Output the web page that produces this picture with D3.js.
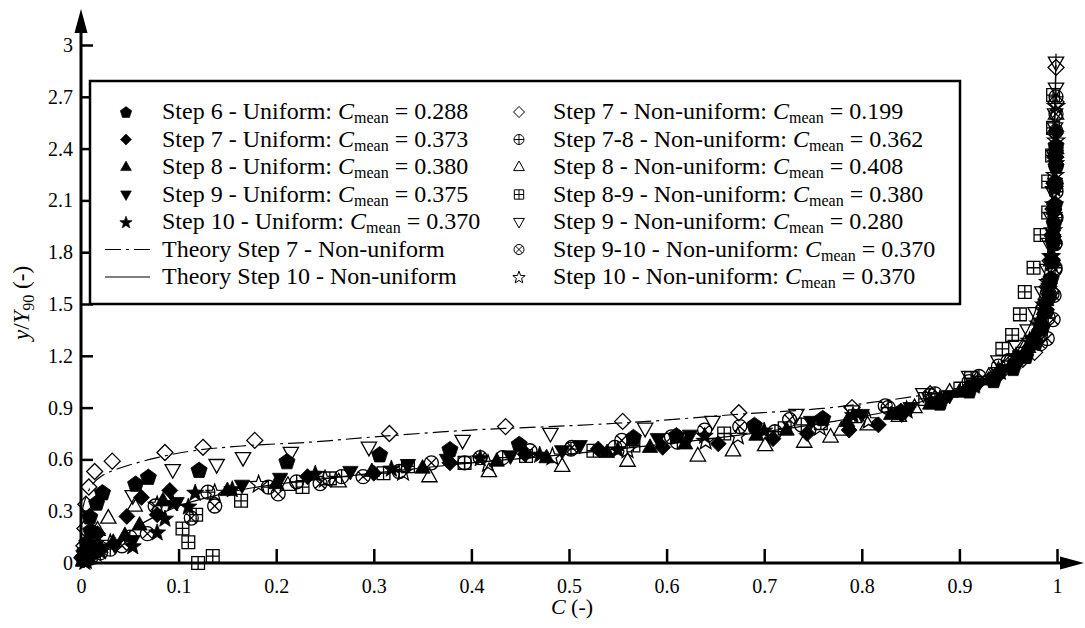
<!DOCTYPE html>
<html>
<head>
<meta charset="utf-8">
<title>Concentration profiles</title>
<script src="https://d3js.org/d3.v7.min.js"></script>
<style>
  html, body { margin: 0; background: #fff; }
  svg { display: block; }
</style>
</head>
<body>
<svg id="svg"></svg>
<script>
// ---- data: [C, y/Y90] pairs ----
const step6U = [[0.002,0.03],[0.004,0.07],[0.006,0.12],[0.010,0.19],[0.009,0.27],[0.016,0.35],[0.022,0.41],[0.056,0.46],[0.069,0.50],[0.121,0.54],[0.211,0.59],[0.306,0.63],[0.378,0.66],[0.449,0.69],[0.566,0.73],[0.610,0.74],[0.690,0.80],[0.760,0.84],[0.840,0.88],[0.880,0.93],[0.910,1.00],[0.935,1.06],[0.955,1.13],[0.968,1.20],[0.978,1.28],[0.985,1.37],[0.989,1.46],[0.992,1.55],[0.994,1.65],[0.995,1.75],[0.996,1.86],[0.997,1.97],[0.998,2.08],[0.998,2.19],[0.999,2.30],[0.999,2.42]];
const step7U = [[0.003,0.02],[0.008,0.06],[0.012,0.10],[0.017,0.17],[0.047,0.27],[0.062,0.38],[0.078,0.28],[0.091,0.42],[0.232,0.50],[0.300,0.52],[0.378,0.58],[0.455,0.63],[0.530,0.66],[0.596,0.67],[0.653,0.69],[0.709,0.72],[0.744,0.75],[0.787,0.77],[0.817,0.80],[0.841,0.86],[0.882,0.94],[0.910,1.02],[0.940,1.10],[0.958,1.17],[0.972,1.25],[0.982,1.35],[0.988,1.47],[0.992,1.60],[0.995,1.75],[0.996,1.90],[0.997,2.05],[0.998,2.20],[0.999,2.35],[0.999,2.50]];
const step8U = [[0.002,0.01],[0.006,0.03],[0.012,0.06],[0.020,0.09],[0.033,0.12],[0.045,0.16],[0.060,0.22],[0.084,0.36],[0.150,0.42],[0.200,0.46],[0.298,0.53],[0.350,0.55],[0.426,0.59],[0.477,0.61],[0.539,0.64],[0.583,0.67],[0.619,0.69],[0.692,0.74],[0.723,0.77],[0.785,0.82],[0.830,0.86],[0.870,0.92],[0.900,0.99],[0.930,1.06],[0.952,1.14],[0.967,1.22],[0.977,1.31],[0.984,1.41],[0.989,1.52],[0.992,1.64],[0.995,1.78],[0.996,1.92],[0.997,2.07],[0.998,2.22],[0.999,2.38]];
const step9U = [[0.003,0.02],[0.010,0.05],[0.020,0.08],[0.035,0.10],[0.053,0.13],[0.098,0.35],[0.165,0.45],[0.204,0.49],[0.276,0.53],[0.335,0.57],[0.375,0.60],[0.440,0.62],[0.493,0.65],[0.511,0.68],[0.591,0.72],[0.624,0.74],[0.690,0.77],[0.748,0.82],[0.800,0.86],[0.850,0.90],[0.890,0.97],[0.920,1.04],[0.945,1.12],[0.962,1.20],[0.974,1.29],[0.983,1.39],[0.988,1.50],[0.992,1.62],[0.994,1.76],[0.996,1.90],[0.997,2.05],[0.998,2.20],[0.999,2.36]];
const step10U = [[0.004,0.01],[0.010,0.04],[0.020,0.07],[0.053,0.10],[0.078,0.18],[0.086,0.26],[0.094,0.35],[0.110,0.33],[0.117,0.41],[0.155,0.43],[0.240,0.52],[0.318,0.55],[0.409,0.61],[0.470,0.63],[0.550,0.66],[0.639,0.74],[0.700,0.77],[0.791,0.86],[0.840,0.88],[0.880,0.95],[0.915,1.03],[0.942,1.11],[0.960,1.19],[0.973,1.28],[0.982,1.38],[0.988,1.49],[0.992,1.61],[0.995,1.74],[0.996,1.88],[0.997,2.02],[0.998,2.17],[0.999,2.32]];
const step7N = [[0.001,0.03],[0.003,0.10],[0.004,0.20],[0.005,0.34],[0.008,0.44],[0.014,0.53],[0.032,0.59],[0.086,0.64],[0.125,0.67],[0.178,0.71],[0.316,0.75],[0.435,0.79],[0.555,0.82],[0.674,0.87],[0.790,0.90],[0.870,0.98],[0.920,1.05],[0.940,1.09],[0.965,1.18],[0.977,1.22],[0.980,1.32],[0.986,1.48],[0.990,1.60],[0.993,1.75],[0.995,1.90],[0.996,2.05],[0.997,2.20],[0.998,2.35],[0.998,2.49],[0.999,2.67],[0.999,2.87]];
const step78N = [[0.010,0.03],[0.030,0.08],[0.050,0.15],[0.130,0.41],[0.192,0.44],[0.221,0.47],[0.267,0.50],[0.326,0.53],[0.393,0.58],[0.432,0.61],[0.502,0.66],[0.547,0.67],[0.611,0.70],[0.711,0.76],[0.738,0.80],[0.827,0.90],[0.875,0.98],[0.920,1.08],[0.950,1.17],[0.983,1.32],[0.991,1.42],[0.995,1.56],[0.998,1.71],[0.998,1.85],[0.998,2.00],[0.999,2.15],[0.999,2.30],[0.999,2.50],[0.999,2.70]];
const step8N = [[0.003,0.02],[0.008,0.06],[0.012,0.13],[0.017,0.19],[0.028,0.26],[0.055,0.33],[0.212,0.45],[0.264,0.47],[0.357,0.50],[0.418,0.53],[0.493,0.56],[0.560,0.59],[0.632,0.62],[0.668,0.65],[0.701,0.68],[0.741,0.70],[0.768,0.73],[0.779,0.77],[0.806,0.80],[0.838,0.85],[0.854,0.90],[0.890,0.99],[0.930,1.08],[0.955,1.16],[0.970,1.25],[0.980,1.35],[0.987,1.47],[0.991,1.60],[0.994,1.75],[0.996,1.90],[0.997,2.05],[0.998,2.20],[0.999,2.40],[0.999,2.60]];
const step89N = [[0.010,0.06],[0.120,0.00],[0.135,0.04],[0.110,0.12],[0.104,0.20],[0.118,0.28],[0.164,0.36],[0.227,0.44],[0.255,0.49],[0.310,0.52],[0.335,0.56],[0.393,0.58],[0.456,0.62],[0.525,0.65],[0.566,0.68],[0.659,0.75],[0.721,0.78],[0.758,0.81],[0.793,0.85],[0.865,0.95],[0.901,1.01],[0.912,1.07],[0.944,1.24],[0.954,1.32],[0.962,1.44],[0.967,1.57],[0.976,1.71],[0.983,1.90],[0.991,2.03],[0.991,2.21],[0.995,2.36],[0.996,2.52],[0.996,2.71]];
const step9N = [[0.003,0.04],[0.008,0.07],[0.015,0.10],[0.053,0.39],[0.094,0.54],[0.139,0.57],[0.166,0.61],[0.215,0.64],[0.295,0.67],[0.391,0.71],[0.481,0.75],[0.578,0.78],[0.647,0.82],[0.733,0.86],[0.790,0.88],[0.863,0.98],[0.910,1.08],[0.940,1.17],[0.958,1.26],[0.970,1.35],[0.978,1.45],[0.985,1.57],[0.990,1.70],[0.992,1.85],[0.994,2.00],[0.996,2.15],[0.997,2.36],[0.998,2.52],[0.998,2.60],[0.999,2.75],[0.999,2.90]];
const step910N = [[0.005,0.03],[0.020,0.06],[0.042,0.10],[0.068,0.17],[0.076,0.33],[0.113,0.26],[0.137,0.33],[0.202,0.40],[0.245,0.46],[0.289,0.50],[0.359,0.58],[0.409,0.61],[0.460,0.65],[0.503,0.67],[0.554,0.71],[0.605,0.73],[0.639,0.77],[0.675,0.79],[0.726,0.83],[0.824,0.91],[0.870,0.97],[0.910,1.05],[0.940,1.14],[0.962,1.21],[0.983,1.27],[0.990,1.30],[0.996,1.41],[0.997,1.55],[0.998,1.70],[0.998,1.85],[0.999,2.00],[0.999,2.20],[0.999,2.40],[0.999,2.60]];
const step10N = [[0.005,0.02],[0.015,0.06],[0.030,0.12],[0.078,0.34],[0.137,0.41],[0.182,0.46],[0.250,0.49],[0.330,0.53],[0.417,0.58],[0.483,0.62],[0.560,0.66],[0.640,0.71],[0.673,0.74],[0.757,0.79],[0.807,0.83],[0.846,0.89],[0.880,0.95],[0.915,1.04],[0.940,1.12],[0.958,1.20],[0.972,1.29],[0.981,1.39],[0.987,1.50],[0.991,1.63],[0.994,1.78],[0.996,1.93],[0.997,2.08],[0.998,2.25],[0.999,2.45],[0.999,2.65]];

// theory curves
const theory7N = [[0.001,0.30],[0.005,0.38],[0.011,0.45],[0.020,0.50],[0.040,0.55],[0.078,0.61],[0.115,0.65],[0.170,0.68],[0.235,0.70],[0.300,0.73],[0.400,0.77],[0.500,0.795],[0.580,0.82],[0.670,0.86],[0.760,0.895],[0.810,0.93],[0.860,0.97],[0.910,1.02],[0.940,1.10],[0.960,1.20],[0.975,1.35],[0.985,1.55],[0.992,1.85],[0.996,2.20],[0.998,2.60],[0.999,2.90]];
const theory10N = [[0.010,0.02],[0.020,0.06],[0.030,0.10],[0.045,0.16],[0.060,0.22],[0.080,0.28],[0.100,0.33],[0.130,0.38],[0.170,0.43],[0.220,0.47],[0.300,0.52],[0.400,0.58],[0.500,0.63],[0.600,0.69],[0.700,0.76],[0.760,0.81],[0.820,0.87],[0.870,0.95],[0.900,1.01],[0.930,1.10],[0.955,1.22],[0.970,1.35],[0.980,1.50],[0.988,1.70],[0.993,1.95],[0.996,2.30],[0.998,2.70],[0.999,2.95]];

const seriesLabels = ["Step 6 - Uniform: ", "Step 7 - Uniform: ", "Step 8 - Uniform: ", "Step 9 - Uniform: ", "Step 10 - Uniform: ",
  "Step 7 - Non-uniform: ", "Step 7-8 - Non-uniform: ", "Step 8 - Non-uniform: ", "Step 8-9 - Non-uniform: ", "Step 9 - Non-uniform: ", "Step 9-10 - Non-uniform: ", "Step 10 - Non-uniform: "];
const cMeans = ["0.288", "0.373", "0.380", "0.375", "0.370", "0.199", "0.362", "0.408", "0.380", "0.280", "0.370", "0.370"];
const seriesData = [step6U, step7U, step8U, step9U, step10U, step7N, step78N, step8N, step89N, step9N, step910N, step10N];
const markerKinds = ["pentagon", "diamond", "triUp", "triDown", "star", "diamond", "oplus", "triUp", "boxplus", "triDown", "otimes", "star"];
const markerFilled = [true, true, true, true, true, false, false, false, false, false, false, false];
const theoryLabels = ["Theory Step 7 - Non-uniform", "Theory Step 10 - Non-uniform"];
const xTicks = [0, 0.1, 0.2, 0.3, 0.4, 0.5, 0.6, 0.7, 0.8, 0.9, 1];
const yTicks = [0, 0.3, 0.6, 0.9, 1.2, 1.5, 1.8, 2.1, 2.4, 2.7, 3];

// ---- layout ----
const W = 1085, H = 628;
const FONT = "Liberation Serif";
const svg = d3.select("#svg").attr("width", W).attr("height", H).style("font-family", FONT);

const x = d3.scaleLinear().domain([0, 1]).range([81, 1057]);
const y = d3.scaleLinear().domain([0, 3]).range([563, 45]);

// symbol types (size is interpreted as r^2)
function poly(ctx, pts) {
  ctx.moveTo(pts[0][0], pts[0][1]);
  for (let i = 1; i < pts.length; i++) ctx.lineTo(pts[i][0], pts[i][1]);
  ctx.closePath();
}
const shapes = {
  pentagon: { draw(ctx, s) { const r = Math.sqrt(s);
    poly(ctx, d3.range(5).map(k => { const a = -Math.PI / 2 + k * 2 * Math.PI / 5; return [r * Math.cos(a), r * Math.sin(a) + r * 0.1]; })); } },
  diamond: { draw(ctx, s) { const r = Math.sqrt(s); poly(ctx, [[0, -r], [r, 0], [0, r], [-r, 0]]); } },
  triUp: { draw(ctx, s) { const r = Math.sqrt(s); poly(ctx, [[0, -r], [r * 0.9, r * 0.6], [-r * 0.9, r * 0.6]]); } },
  triDown: { draw(ctx, s) { const r = Math.sqrt(s); poly(ctx, [[0, r], [r * 0.9, -r * 0.6], [-r * 0.9, -r * 0.6]]); } },
  star: { draw(ctx, s) { const r = Math.sqrt(s);
    poly(ctx, d3.range(10).map(k => { const a = -Math.PI / 2 + k * Math.PI / 5, rr = k % 2 ? r * 0.42 : r; return [rr * Math.cos(a), rr * Math.sin(a) + r * 0.1]; })); } },
  oplus: { draw(ctx, s) { const r = Math.sqrt(s);
    ctx.moveTo(r, 0); ctx.arc(0, 0, r, 0, 2 * Math.PI);
    ctx.moveTo(-r, 0); ctx.lineTo(r, 0); ctx.moveTo(0, -r); ctx.lineTo(0, r); } },
  otimes: { draw(ctx, s) { const r = Math.sqrt(s), q = r * Math.SQRT1_2;
    ctx.moveTo(r, 0); ctx.arc(0, 0, r, 0, 2 * Math.PI);
    ctx.moveTo(-q, -q); ctx.lineTo(q, q); ctx.moveTo(-q, q); ctx.lineTo(q, -q); } },
  boxplus: { draw(ctx, s) { const r = Math.sqrt(s) * 0.85;
    ctx.rect(-r, -r, 2 * r, 2 * r);
    ctx.moveTo(-r, 0); ctx.lineTo(r, 0); ctx.moveTo(0, -r); ctx.lineTo(0, r); } }
};
const plotR = { pentagon: 8.5, diamond: 8, triUp: 8.5, triDown: 8.5, star: 9, oplus: 7, otimes: 7, boxplus: 7.5 };
const legR = { pentagon: 6, diamond: 5.5, triUp: 6, triDown: 6, star: 6.5, oplus: 5, otimes: 5, boxplus: 5.5 };

function sym(kind, r) { return d3.symbol().type(shapes[kind]).size(r * r)(); }

// ---- theory lines ----
const line = d3.line().curve(d3.curveCatmullRom.alpha(0.5)).x(d => x(d[0])).y(d => y(d[1]));
svg.append("path").attr("d", line(theory7N)).attr("fill", "none").attr("stroke", "#000")
  .attr("stroke-width", 1.2).attr("stroke-dasharray", "16,5,3,5");
svg.append("path").attr("d", line(theory10N)).attr("fill", "none").attr("stroke", "#000").attr("stroke-width", 1.2);

// ---- markers ----
seriesData.forEach((data, i) => {
  const kind = markerKinds[i], filled = markerFilled[i];
  svg.append("g").selectAll("path").data(data).join("path")
    .attr("transform", d => `translate(${x(d[0])},${y(d[1])})`)
    .attr("d", sym(kind, plotR[kind]))
    .attr("fill", filled ? "#000" : "none")
    .attr("stroke", "#000")
    .attr("stroke-width", filled ? 0.8 : 1.3);
});

// ---- axes ----
const yAxis = svg.append("g").attr("transform", `translate(${x(0)},0)`)
  .call(d3.axisLeft(y).tickValues(yTicks).tickSize(-12).tickPadding(8).tickFormat(d3.format("~g")));
const xAxis = svg.append("g").attr("transform", `translate(0,${y(0)})`)
  .call(d3.axisBottom(x).tickValues(xTicks).tickSize(-14).tickPadding(16).tickFormat(d3.format("~g")));
[yAxis, xAxis].forEach(a => {
  a.attr("font-family", FONT);
  a.select(".domain").remove();
  a.selectAll(".tick line").attr("stroke", "#000").attr("stroke-width", 2.5);
  a.selectAll(".tick text").attr("fill", "#000").style("font-family", FONT).style("font-size", "20px");
});
// axis lines with arrowheads
svg.append("line").attr("x1", x(0)).attr("x2", x(0)).attr("y1", y(0) + 1.5).attr("y2", 30).attr("stroke", "#000").attr("stroke-width", 3);
svg.append("path").attr("d", `M${x(0)},9 L${x(0) + 6.5},33 L${x(0) - 6.5},33 Z`).attr("fill", "#000");
svg.append("line").attr("x1", x(0) - 1.5).attr("x2", 1062).attr("y1", y(0)).attr("y2", y(0)).attr("stroke", "#000").attr("stroke-width", 3);
svg.append("path").attr("d", `M1084,${y(0)} L1060,${y(0) - 6.5} L1060,${y(0) + 6.5} Z`).attr("fill", "#000");

// axis titles
const xt = svg.append("text").attr("x", 572).attr("y", 614).attr("text-anchor", "middle")
  .style("font-family", FONT).style("font-size", "22px");
xt.append("tspan").style("font-style", "italic").text("C");
xt.append("tspan").text(" (-)");
const yt = svg.append("text").attr("transform", "translate(29,303) rotate(-90)").attr("text-anchor", "middle")
  .style("font-family", FONT).style("font-size", "23px");
yt.append("tspan").style("font-style", "italic").text("y");
yt.append("tspan").text("/");
yt.append("tspan").style("font-style", "italic").text("Y");
yt.append("tspan").attr("dy", 5).style("font-size", "16px").text("90");
yt.append("tspan").attr("dy", -5).text(" (-)");

// ---- legend ----
const leg = svg.append("g");
leg.append("rect").attr("x", 90).attr("y", 81).attr("width", 870).attr("height", 223)
  .attr("fill", "#fff").attr("stroke", "#000").attr("stroke-width", 2.5);
const rowY = i => 112 + i * 27.5;
const colMark = [126, 519], colText = [162, 553];
seriesLabels.forEach((lab, i) => {
  const col = i < 5 ? 0 : 1, row = i < 5 ? i : i - 5;
  const kind = markerKinds[i], filled = markerFilled[i];
  leg.append("path").attr("transform", `translate(${colMark[col]},${rowY(row)})`)
    .attr("d", sym(kind, legR[kind]))
    .attr("fill", filled ? "#000" : "none").attr("stroke", "#000").attr("stroke-width", filled ? 0.6 : 1);
  const t = leg.append("text").attr("x", colText[col]).attr("y", rowY(row) + 7)
    .style("font-family", FONT).style("font-size", "24px");
  t.append("tspan").text(lab);
  t.append("tspan").style("font-style", "italic").text("C");
  t.append("tspan").attr("dy", 4).style("font-size", "16px").text("mean");
  t.append("tspan").attr("dy", -4).text(" = " + cMeans[i]);
});
theoryLabels.forEach((lab, j) => {
  const yy = rowY(5 + j);
  leg.append("line").attr("x1", 105).attr("x2", 150).attr("y1", yy).attr("y2", yy)
    .attr("stroke", "#000").attr("stroke-width", 1.2).attr("stroke-dasharray", j === 0 ? "16,5,3,5" : null);
  leg.append("text").attr("x", colText[0]).attr("y", yy + 7)
    .style("font-family", FONT).style("font-size", "24px").text(lab);
});
</script>
</body>
</html>
